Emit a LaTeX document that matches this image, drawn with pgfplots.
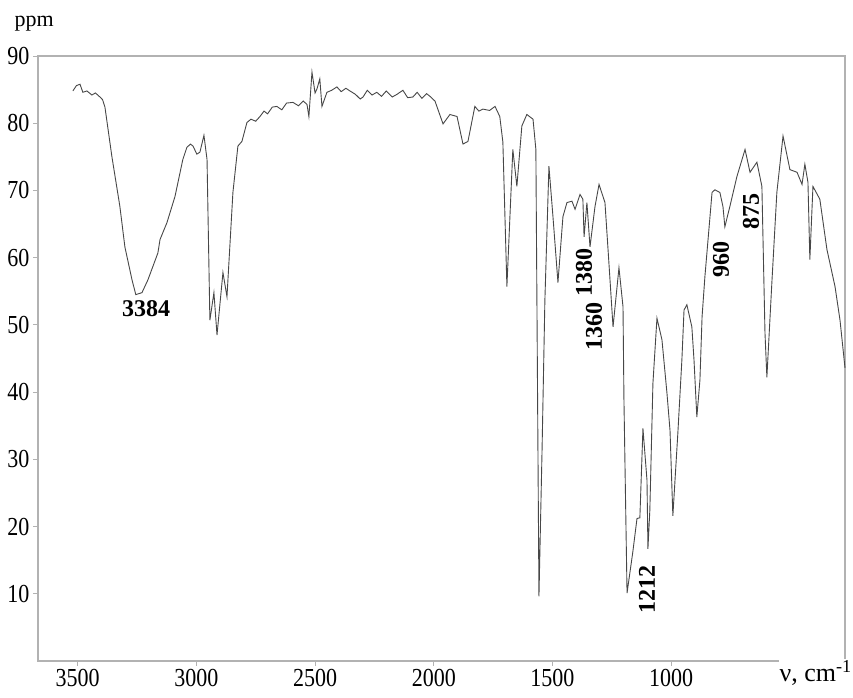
\documentclass[border=0pt]{standalone}
\usepackage{fontspec}
\setmainfont{Liberation Serif}
\usepackage{pgfplots}
\pgfplotsset{compat=1.18}
\begin{document}
\begin{tikzpicture}
\useasboundingbox (-38pt,-36pt) rectangle (815pt,661pt);
\begin{axis}[at={(0,0)}, anchor=south west,
  width=807pt, height=605pt, scale only axis,
  x dir=reverse, xmin=268, xmax=3667, ymin=0, ymax=90,
  xtick={1000,1500,2000,2500,3000,3500},
  ytick={10,20,30,40,50,60,70,80,90},
  tick align=outside, xtick pos=bottom, ytick pos=left,
  major tick length=5pt,
  axis line style={draw=gray!60, line width=1.6pt},
  every tick/.style={draw=gray!60, line width=1pt},
  ticklabel style={font=\fontsize{22}{24}\selectfont},
  /pgf/number format/assume math mode=true,
  /pgf/number format/1000 sep={},
  xticklabel={\scalebox{1}[1.18]{\pgfmathprintnumber{\tick}}},
  yticklabel={\scalebox{1}[1.18]{\pgfmathprintnumber{\tick}}},
  clip=false]
\addplot[color=black!72, line width=0.9pt] coordinates {
(3520,84.8)(3505,85.6)(3490,85.8)(3478,84.6)(3461,84.8)(3440,84.2)(3425,84.5)(3406,83.9)
(3395,83.5)(3385,82.4)(3356,75.1)(3322,67.6)(3301,61.6)(3271,56.7)(3255,54.5)(3229,54.8)
(3204,56.7)(3162,60.7)(3153,62.7)(3124,65.2)(3090,69.1)(3057,74.6)(3040,76.4)(3025,76.9)
(3014,76.6)(2998,75.4)(2985,75.7)(2968,78.2)(2955,74.6)(2943,50.7)(2926,54.8)(2913,48.5)
(2888,57.8)(2871,54.2)(2846,69.7)(2825,76.6)(2808,77.3)(2787,80.1)(2770,80.6)(2750,80.3)
(2732,81.0)(2715,81.8)(2700,81.4)(2680,82.4)(2661,82.5)(2640,82.0)(2620,83.0)(2593,83.1)
(2570,82.6)(2550,83.3)(2534,82.8)(2526,81.0)(2513,87.6)(2500,84.5)(2492,85.1)(2480,86.6)
(2471,82.5)(2450,84.6)(2430,84.9)(2408,85.4)(2390,84.7)(2370,85.2)(2353,84.8)(2330,84.3)
(2310,83.6)(2298,83.9)(2280,84.9)(2260,84.2)(2240,84.6)(2220,84.0)(2200,84.8)(2175,83.9)
(2155,84.3)(2130,84.9)(2110,83.8)(2088,83.9)(2070,84.6)(2050,83.7)(2030,84.4)(2016,84.0)
(1995,83.3)(1961,79.9)(1932,81.3)(1902,81.0)(1877,76.9)(1856,77.3)(1827,82.5)(1810,81.8)
(1793,82.1)(1765,81.9)(1742,82.5)(1722,81.0)(1709,77.2)(1692,55.7)(1667,76.1)(1650,70.6)
(1629,79.6)(1608,81.3)(1582,80.6)(1570,76.1)(1557,9.6)(1544,31.3)(1532,53.7)(1515,73.6)
(1498,66.1)(1477,56.3)(1456,66.1)(1439,68.2)(1418,68.4)(1405,67.2)(1384,69.4)(1372,68.7)
(1367,63.1)(1355,68.2)(1342,61.6)(1321,67.6)(1304,70.9)(1279,68.2)(1266,61.2)(1245,49.7)
(1220,58.5)(1203,52.7)(1199,38.8)(1186,10.1)(1161,16.4)(1144,21.2)(1132,21.3)(1119,34.6)
(1102,26.9)(1098,16.7)(1090,22.4)(1077,41.3)(1060,51.0)(1039,47.8)(1018,39.9)(1005,34.3)
(993,21.6)(972,33.9)(955,44.8)(946,52.2)(934,53.0)(913,49.7)(904,44.8)(892,36.3)
(879,41.8)(870,51.2)(858,57.2)(828,69.7)(816,70.1)(795,69.7)(782,67.6)(774,64.6)
(753,67.6)(723,72.1)(689,76.1)(668,72.7)(639,74.2)(618,70.6)(605,48.8)(597,42.2)
(576,56.3)(555,69.7)(529,78.1)(500,73.1)(470,72.7)(449,70.9)(437,73.9)(424,71.2)
(416,59.7)(403,70.6)(374,68.7)(344,61.2)(310,55.7)(289,50.7)(268,43.6)
};
\node[font=\bfseries\fontsize{24}{24}\selectfont] at (axis cs:3212,52.4) {3384};
\node[font=\bfseries\fontsize{24}{24}\selectfont, rotate=90] at (axis cs:1367,57.8) {1380};
\node[font=\bfseries\fontsize{24}{24}\selectfont, rotate=90] at (axis cs:1325,49.7) {1360};
\node[font=\bfseries\fontsize{24}{24}\selectfont, rotate=90] at (axis cs:1102,10.7) {1212};
\node[font=\bfseries\fontsize{24}{24}\selectfont, rotate=90] at (axis cs:790,59.7) {960};
\node[font=\bfseries\fontsize{24}{24}\selectfont, rotate=90] at (axis cs:664,66.9) {875};
\node[anchor=base west, font=\fontsize{22}{22}\selectfont, xshift=-27pt, yshift=30pt] at (rel axis cs:0,1) {ppm};
\node[anchor=north east, fill=white, inner sep=1pt, xshift=8pt, yshift=2pt, font=\fontsize{26}{26}\selectfont] at (rel axis cs:1,0) {ν, cm\textsuperscript{-1}};
\end{axis}
\end{tikzpicture}
\end{document}
